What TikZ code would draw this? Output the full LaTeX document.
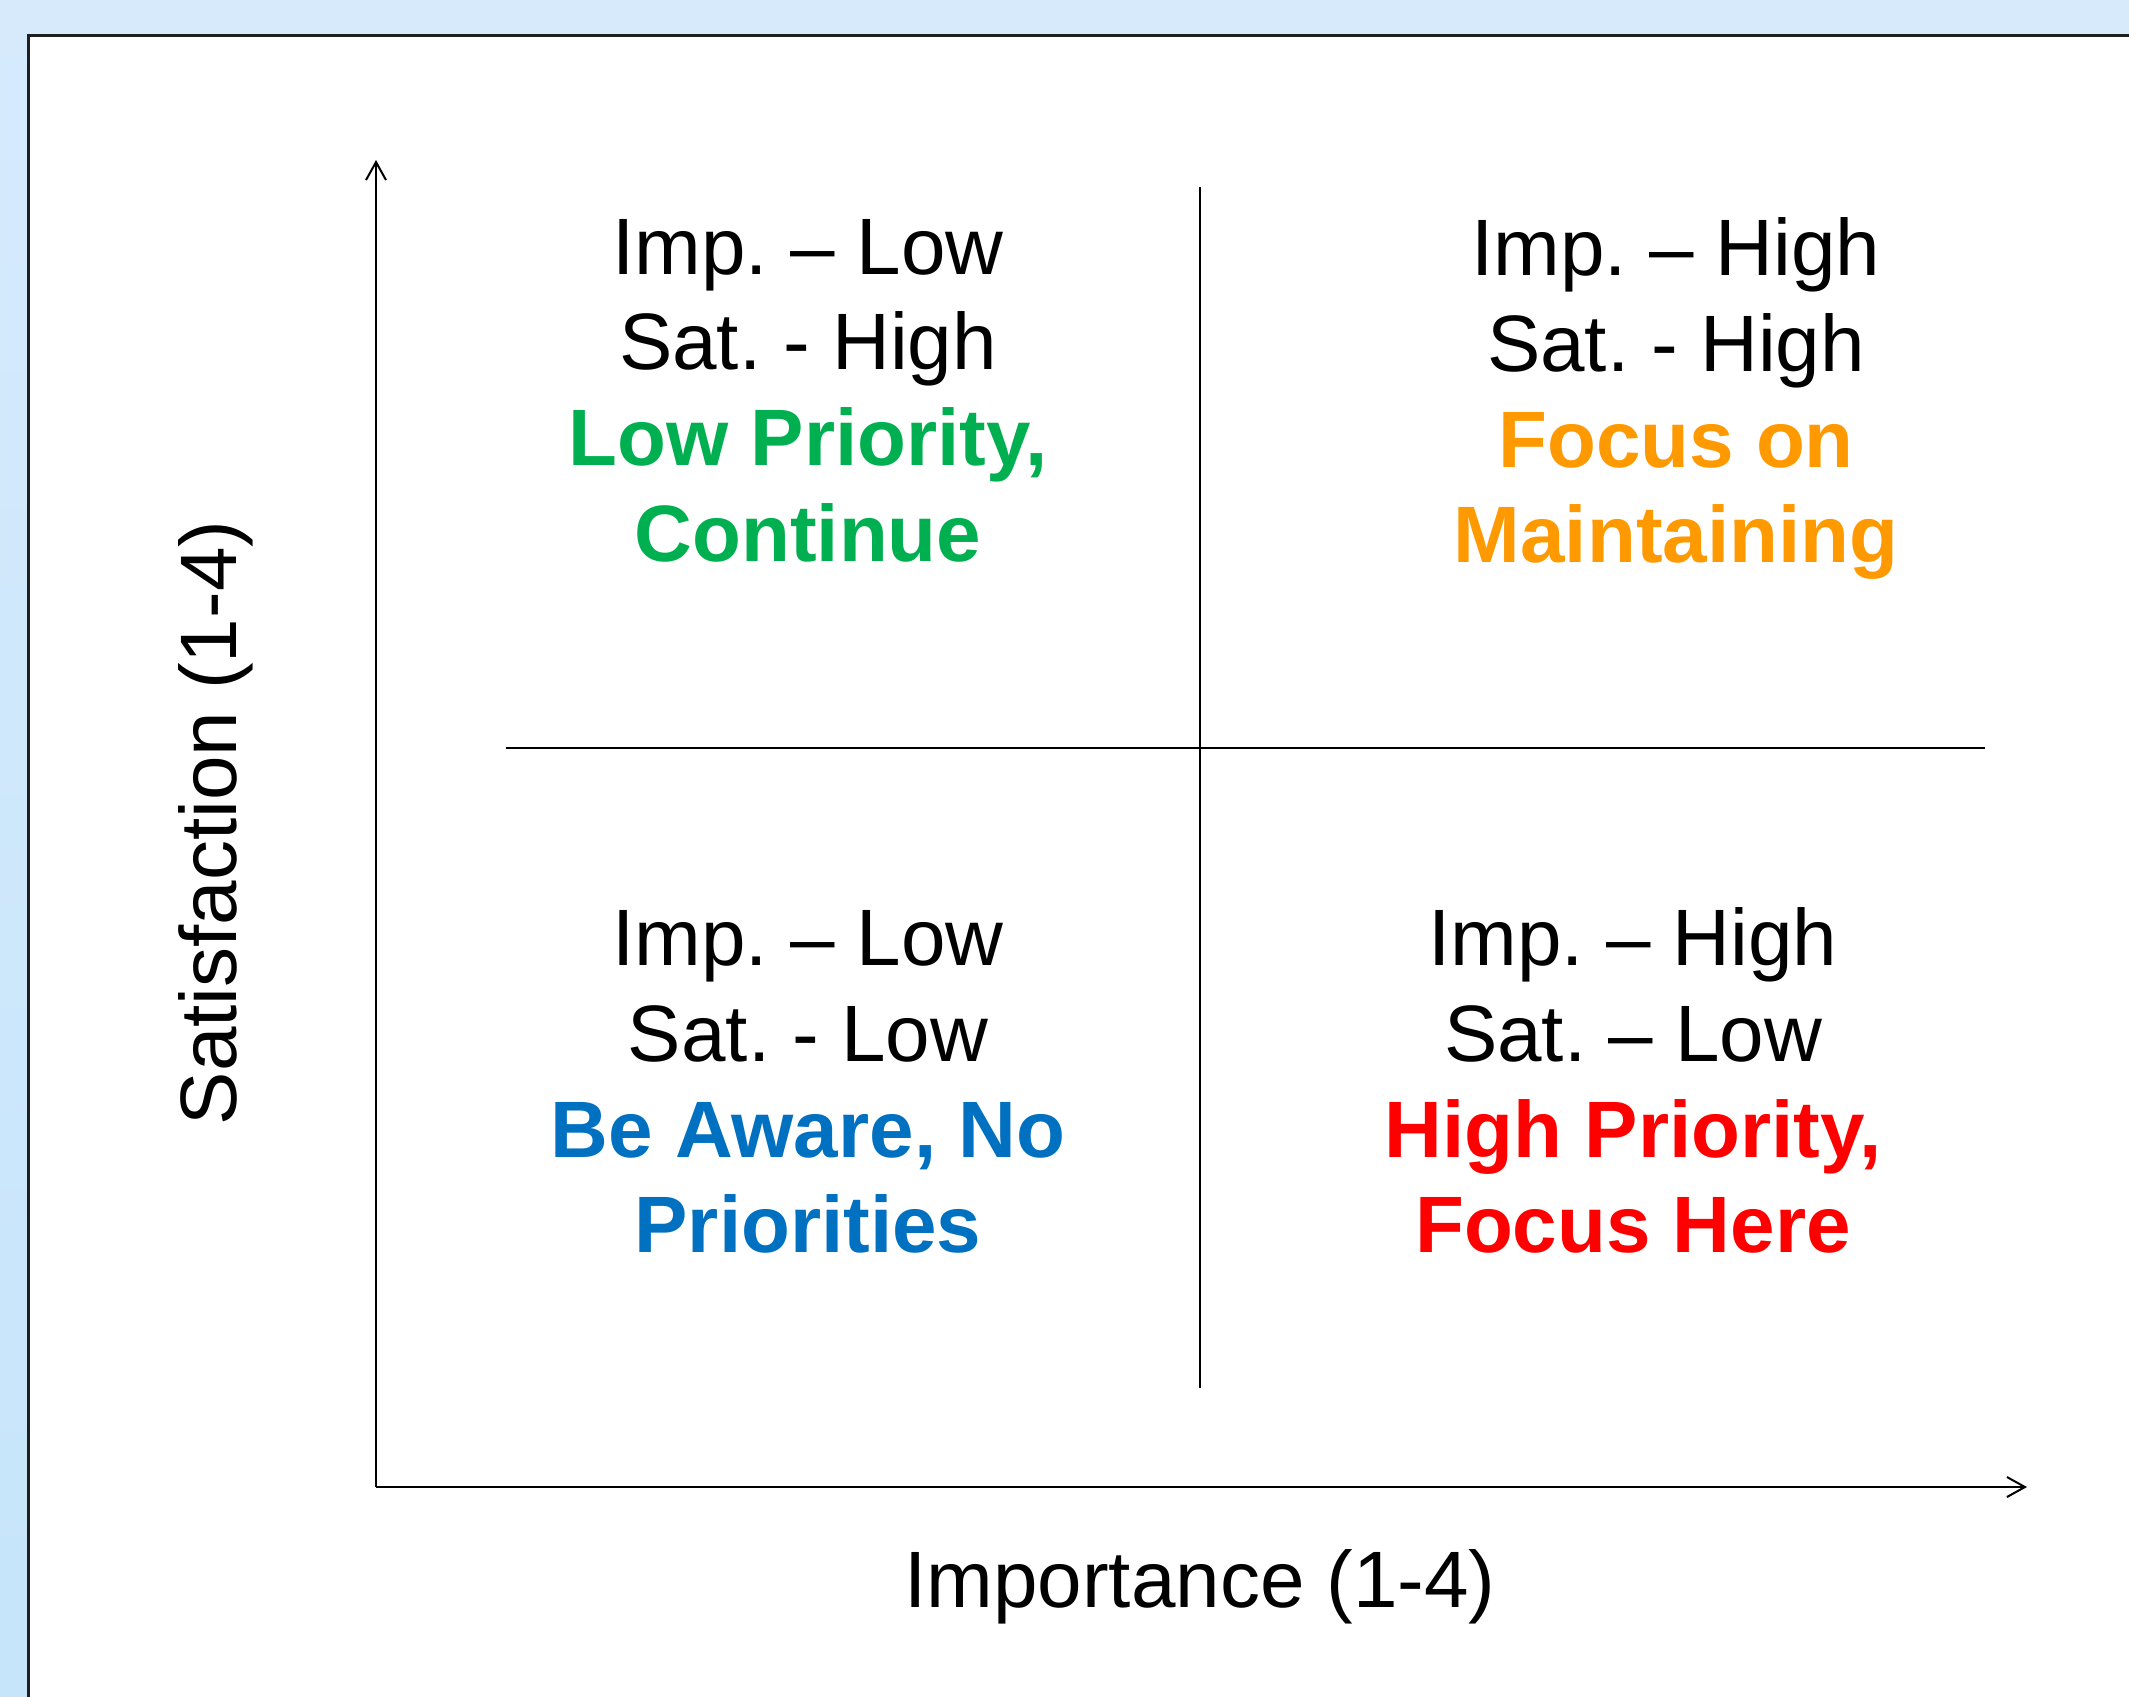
\documentclass[tikz,border=0pt]{standalone}
\usepackage{fontspec}
\setmainfont{Liberation Sans}
\frenchspacing
\usetikzlibrary{arrows.meta}
\definecolor{bgtop}{HTML}{D6EAFC}
\definecolor{bgbot}{HTML}{C6E5FA}
\definecolor{qgreen}{HTML}{00B050}
\definecolor{qorange}{HTML}{FF9900}
\definecolor{qblue}{HTML}{0070C0}
\definecolor{qred}{HTML}{FF0000}
\tikzset{
  lbl/.style={inner sep=0pt, anchor=base, font=\fontsize{40pt}{48pt}\selectfont},
  blbl/.style={lbl, font=\fontsize{40pt}{48pt}\selectfont\bfseries},
  axisline/.style={line width=1.1pt, -{Straight Barb[length=9pt,width=10pt,line width=1pt]}},
  divider/.style={line width=0.75pt},
}
\begin{document}
\begin{tikzpicture}[x=0.5pt, y=-0.5pt]
\useasboundingbox (0,0) rectangle (2129,1696);
\clip (0,0) rectangle (2129,1696);
\fill[top color=bgtop, bottom color=bgbot] (0,0) rectangle (2129,1696);
\draw[line width=1.5pt, draw=black!88, fill=white] (28,36) rectangle (2200,1760);

% axes
\coordinate (origin) at (376,1487);
\coordinate (ytip) at (376,160);
\coordinate (xtip) at (2027,1487);
\draw[axisline] (origin) -- (ytip);
\draw[axisline] (origin) -- (xtip);

% dividers
\coordinate (vtop) at (1200,187);
\coordinate (vbot) at (1200,1388);
\coordinate (hleft) at (506,748);
\coordinate (hright) at (1985,748);
\draw[divider] (vtop) -- (vbot);
\draw[divider] (hleft) -- (hright);

% top-left
\node[lbl] (tl1) at (808,274) {Imp. – Low};
\node[lbl] (tl2) at (808,369) {Sat. - High};
\node[blbl, text=qgreen] (tl3) at (808,465) {Low Priority,};
\node[blbl, text=qgreen] (tl4) at (808,561) {Continue};

% top-right
\node[lbl] (tr1) at (1676,275) {Imp. – High};
\node[lbl] (tr2) at (1676,371) {Sat. - High};
\node[blbl, text=qorange] (tr3) at (1676,467) {Focus on};
\node[blbl, text=qorange] (tr4) at (1676,562) {Maintaining};

% bottom-left
\node[lbl] (bl1) at (808,965) {Imp. – Low};
\node[lbl] (bl2) at (808,1061) {Sat. - Low};
\node[blbl, text=qblue] (bl3) at (808,1157) {Be Aware, No};
\node[blbl, text=qblue] (bl4) at (808,1252) {Priorities};

% bottom-right
\node[lbl] (br1) at (1633,965) {Imp. – High};
\node[lbl] (br2) at (1633,1061) {Sat. – Low};
\node[blbl, text=qred] (br3) at (1633,1157) {High Priority,};
\node[blbl, text=qred] (br4) at (1633,1252) {Focus Here};

% axis labels
\node[lbl] (xlabel) at (1200,1607) {Importance (1-4)};
\node[lbl, rotate=90] (ylabel) at (236,823) {Satisfaction (1-4)};
\end{tikzpicture}
\end{document}
